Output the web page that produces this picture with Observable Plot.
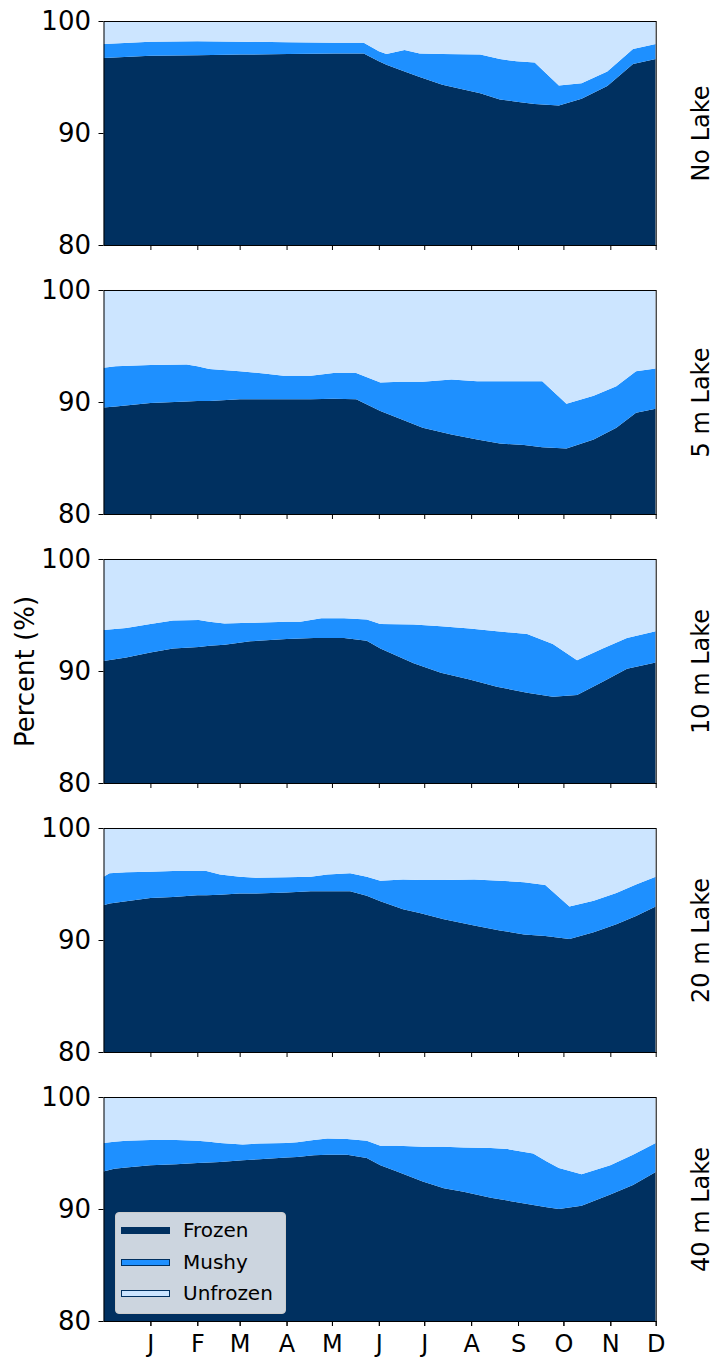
<!DOCTYPE html>
<html>
<head>
<meta charset="utf-8">
<script src="https://cdn.jsdelivr.net/npm/d3@7"></script>
<script src="https://cdn.jsdelivr.net/npm/@observablehq/plot@0.6"></script>
<style>
  body { margin: 0; background: #fff; }
  #wrap { position: relative; width: 719px; height: 1363px; font-family: "DejaVu Sans", sans-serif; }
  .legend { position: absolute; left: 115px; top: 1212px; width: 171px; height: 102px; box-sizing: border-box;
            background: rgba(255,255,255,0.8); border: 1px solid #cccccc; border-radius: 4px; }
  .lg-swatch { position: absolute; left: 5px; width: 49px; box-sizing: border-box; }
  .lg-text { position: absolute; left: 67px; font-size: 20px; line-height: 24px; color: #000; white-space: nowrap; }
</style>
</head>
<body>
<div id="wrap"></div>
<script>
// ---- categories / labels ----
const panels = ["No Lake", "5 m Lake", "10 m Lake", "20 m Lake", "40 m Lake"];
const layers = ["Frozen", "Mushy", "Unfrozen"];
const layerColors = ["#003060", "#1e90ff", "#cce5ff"];
const yTicks = [80, 90, 100];
const monthStarts = [31, 62, 90, 121, 151, 182, 212, 243, 274, 304, 335, 365]; // days since 1 Dec
const monthLabels = ["J", "F", "M", "A", "M", "J", "J", "A", "S", "O", "N", "D"];
const yTitle = "Percent (%)";

// ---- No Lake ----
const noLakeDays     = [0, 31, 62, 91, 122, 153, 172, 182, 187, 199, 209, 224, 249, 262, 273, 285, 301, 316, 333, 350, 365];
const noLakeFrozen   = [96.7, 96.9, 96.95, 97.0, 97.05, 97.1, 97.1, 96.4, 96.1, 95.5, 95.0, 94.3, 93.55, 93.0, 92.8, 92.6, 92.45, 93.05, 94.2, 96.15, 96.6];
const noLakeMushy    = [1.25, 1.25, 1.25, 1.15, 1.05, 0.95, 0.95, 0.9, 0.95, 1.9, 2.1, 2.75, 3.45, 3.6, 3.6, 3.7, 1.8, 1.4, 1.3, 1.35, 1.35];
const noLakeUnfrozen = [2.05, 1.85, 1.8, 1.85, 1.9, 1.95, 1.95, 2.7, 2.95, 2.6, 2.9, 2.95, 3.0, 3.4, 3.6, 3.7, 5.75, 5.55, 4.5, 2.5, 2.05];

// ---- 5 m Lake ----
const lake5Days     = [0, 8, 31, 55, 62, 70, 90, 106, 119, 137, 152, 167, 183, 196, 211, 230, 247, 262, 278, 290, 306, 324, 339, 352, 365];
const lake5Frozen   = [89.5, 89.6, 89.9, 90.05, 90.1, 90.1, 90.25, 90.25, 90.25, 90.25, 90.3, 90.25, 89.2, 88.5, 87.7, 87.1, 86.65, 86.3, 86.15, 85.95, 85.85, 86.65, 87.7, 89.05, 89.4];
const lake5Mushy    = [3.55, 3.6, 3.4, 3.3, 3.1, 2.85, 2.5, 2.3, 2.1, 2.1, 2.3, 2.35, 2.55, 3.3, 4.1, 4.9, 5.2, 5.55, 5.7, 5.9, 4.0, 3.9, 3.7, 3.7, 3.6];
const lake5Unfrozen = [6.95, 6.8, 6.7, 6.65, 6.8, 7.05, 7.25, 7.45, 7.65, 7.65, 7.4, 7.4, 8.25, 8.2, 8.2, 8.0, 8.15, 8.15, 8.15, 8.15, 10.15, 9.45, 8.6, 7.25, 7.0];

// ---- 10 m Lake ----
const lake10Days     = [0, 15, 31, 46, 63, 70, 80, 97, 121, 130, 139, 144, 159, 174, 183, 205, 223, 242, 260, 280, 297, 313, 330, 346, 365];
const lake10Frozen   = [90.9, 91.2, 91.65, 92.0, 92.15, 92.25, 92.35, 92.65, 92.85, 92.9, 92.95, 92.95, 92.95, 92.7, 92.0, 90.7, 89.85, 89.25, 88.6, 88.05, 87.7, 87.85, 89.05, 90.2, 90.75];
const lake10Mushy    = [2.75, 2.65, 2.55, 2.5, 2.4, 2.15, 1.9, 1.65, 1.55, 1.5, 1.65, 1.75, 1.75, 1.9, 2.2, 3.45, 4.15, 4.55, 4.95, 5.25, 4.7, 3.1, 2.95, 2.75, 2.8];
const lake10Unfrozen = [6.35, 6.15, 5.8, 5.5, 5.45, 5.6, 5.75, 5.7, 5.6, 5.6, 5.4, 5.3, 5.3, 5.4, 5.8, 5.85, 6.0, 6.2, 6.45, 6.7, 7.6, 9.05, 8.0, 7.05, 6.45];

// ---- 20 m Lake ----
const lake20Days     = [0, 4, 15, 31, 46, 62, 68, 77, 90, 101, 121, 137, 148, 163, 174, 183, 198, 209, 225, 245, 262, 278, 292, 308, 324, 339, 352, 365];
const lake20Frozen   = [93.1, 93.25, 93.45, 93.75, 93.85, 94.0, 94.0, 94.05, 94.15, 94.15, 94.25, 94.35, 94.35, 94.35, 93.95, 93.45, 92.75, 92.4, 91.85, 91.3, 90.85, 90.5, 90.35, 90.1, 90.7, 91.4, 92.15, 93.0];
const lake20Mushy    = [2.55, 2.7, 2.6, 2.35, 2.3, 2.15, 2.15, 1.8, 1.5, 1.4, 1.35, 1.3, 1.5, 1.6, 1.7, 1.85, 2.65, 2.95, 3.5, 4.1, 4.45, 4.65, 4.55, 2.9, 2.8, 2.8, 2.8, 2.65];
const lake20Unfrozen = [4.35, 4.05, 3.95, 3.9, 3.85, 3.85, 3.85, 4.15, 4.35, 4.45, 4.4, 4.35, 4.15, 4.05, 4.35, 4.7, 4.6, 4.65, 4.65, 4.6, 4.7, 4.85, 5.1, 7.0, 6.5, 5.8, 5.05, 4.35];

// ---- 40 m Lake ----
const lake40Days     = [0, 7, 15, 31, 48, 62, 70, 77, 92, 103, 121, 128, 139, 148, 161, 174, 183, 194, 211, 225, 238, 256, 267, 284, 293, 301, 316, 335, 350, 365];
const lake40Frozen   = [93.35, 93.6, 93.7, 93.9, 94.0, 94.1, 94.15, 94.2, 94.35, 94.45, 94.6, 94.65, 94.8, 94.85, 94.85, 94.55, 93.9, 93.35, 92.45, 91.85, 91.55, 91.0, 90.75, 90.35, 90.15, 90.0, 90.3, 91.3, 92.15, 93.3];
const lake40Mushy    = [2.55, 2.4, 2.4, 2.25, 2.15, 2.0, 1.85, 1.7, 1.4, 1.4, 1.3, 1.3, 1.35, 1.45, 1.4, 1.55, 1.75, 2.3, 3.1, 3.7, 3.95, 4.45, 4.6, 4.6, 4.1, 3.65, 2.8, 2.6, 2.7, 2.6];
const lake40Unfrozen = [4.1, 4.0, 3.9, 3.85, 3.85, 3.9, 4.0, 4.1, 4.25, 4.15, 4.1, 4.05, 3.85, 3.7, 3.75, 3.9, 4.35, 4.35, 4.45, 4.45, 4.5, 4.55, 4.65, 5.05, 5.75, 6.35, 6.9, 6.1, 5.15, 4.1];

// ---- assemble long table ----
const panelSeries = [
  [noLakeDays, noLakeFrozen, noLakeMushy, noLakeUnfrozen],
  [lake5Days, lake5Frozen, lake5Mushy, lake5Unfrozen],
  [lake10Days, lake10Frozen, lake10Mushy, lake10Unfrozen],
  [lake20Days, lake20Frozen, lake20Mushy, lake20Unfrozen],
  [lake40Days, lake40Frozen, lake40Mushy, lake40Unfrozen]
];
const rows = [];
panelSeries.forEach(([days, ...vals], p) => {
  vals.forEach((arr, l) => {
    days.forEach((d, i) => rows.push({panel: panels[p], layer: layers[l], day: d, value: arr[i]}));
  });
});

const chart = Plot.plot({
  width: 719,
  height: 1363,
  marginTop: 18.7,
  marginBottom: 39.7,
  marginLeft: 103.5,
  marginRight: 63.3,
  style: {fontFamily: "DejaVu Sans", background: "white", color: "black"},
  x: {domain: [0, 365]},
  y: {domain: [80, 100]},
  fy: {domain: panels, paddingInner: 0.168, paddingOuter: 0, axis: null},
  color: {domain: layers, range: layerColors},
  marks: [
    Plot.areaY(rows, {x: "day", y: "value", fill: "layer", fy: "panel", clip: true}),
    Plot.frame({stroke: "black", strokeWidth: 1}),
    Plot.axisY({ticks: yTicks, tickSize: 5, tickPadding: 8, fontSize: 26, label: null}),
    Plot.axisX({ticks: monthStarts, tickSize: 5, tickFormat: () => "", label: null, facetAnchor: null}),
    Plot.axisX({ticks: monthStarts, tickSize: 5, tickPadding: 8, fontSize: 24, label: null,
                tickFormat: d => monthLabels[monthStarts.indexOf(d)]}),
    Plot.text(panels, {fy: d => d, text: d => d, frameAnchor: "right", textAnchor: "middle",
                       dx: 45, rotate: -90, fontSize: 24}),
    Plot.text([yTitle], {fy: [panels[2]], text: d => d, frameAnchor: "left", textAnchor: "middle",
                         dx: -78.5, rotate: -90, fontSize: 26})
  ]
});

const wrap = document.getElementById("wrap");
wrap.appendChild(chart);

// ---- legend (HTML) ----
const legend = document.createElement("div");
legend.className = "legend";
const swatchStyles = [
  {top: 14, height: 7, border: "none"},
  {top: 46, height: 7, border: "1px solid #003060"},
  {top: 77, height: 7, border: "1px solid #003060"}
];
const textTops = [5, 37, 68];
layers.forEach((name, i) => {
  const sw = document.createElement("div");
  sw.className = "lg-swatch";
  sw.style.top = swatchStyles[i].top + "px";
  sw.style.height = swatchStyles[i].height + "px";
  sw.style.background = layerColors[i];
  sw.style.border = swatchStyles[i].border;
  legend.appendChild(sw);
  const tx = document.createElement("div");
  tx.className = "lg-text";
  tx.style.top = textTops[i] + "px";
  tx.textContent = name;
  legend.appendChild(tx);
});
wrap.appendChild(legend);
</script>
</body>
</html>
